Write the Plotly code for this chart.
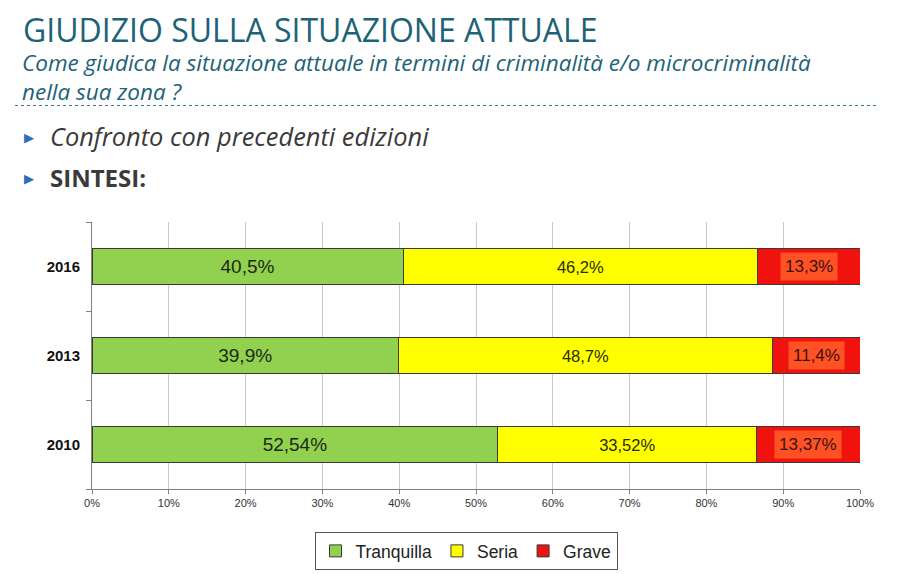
import plotly.graph_objects as go

years = ["2010", "2013", "2016"]
tranquilla = [52.54, 39.9, 40.5]
seria = [33.52, 48.7, 46.2]
grave = [13.37, 11.4, 13.3]
tranquilla_lbl = ["52,54%", "39,9%", "40,5%"]
seria_lbl = ["33,52%", "48,7%", "46,2%"]
grave_lbl = ["13,37%", "11,4%", "13,3%"]

# page body has an 8px margin: size the figure to fit and map window pixels to paper
OFF = 8
W, H = 917 - OFF, 574 - OFF
def px(x): return (x - OFF) / W
def py(y): return 1 - (y - OFF) / H

GREEN = "#92D050"
YELLOW = "#FFFF00"
RED = "#F0120E"
LBLBG = "#FF5224"
TEAL = "#1D6277"
LBLFONT = "Liberation Sans"

fig = go.Figure()
outline = dict(color="#3a3a3a", width=1)
fig.add_trace(go.Bar(y=years, x=tranquilla, name="Tranquilla", orientation="h",
                     marker=dict(color=GREEN, line=outline), text=tranquilla_lbl,
                     textposition="inside", insidetextanchor="middle",
                     textfont=dict(family=LBLFONT, size=19, color="#1a2a12")))
fig.add_trace(go.Bar(y=years, x=seria, name="Seria", orientation="h",
                     marker=dict(color=YELLOW, line=outline), text=seria_lbl,
                     textposition="inside", insidetextanchor="middle",
                     textfont=dict(family=LBLFONT, size=16.5, color="#2a2a10")))
fig.add_trace(go.Bar(y=years, x=grave, name="Grave", orientation="h",
                     marker=dict(color=RED, line=outline)))

annotations = []
# category axis: position the red-segment labels by category index
for i, (t, s, g, lbl) in enumerate(zip(tranquilla, seria, grave, grave_lbl)):
    tot = t + s + g
    cx = (t + s + g / 2) / tot * 100
    annotations.append(dict(x=cx, y=i, xref="x", yref="y", text=lbl, showarrow=False,
                            font=dict(family=LBLFONT, size=17, color="#3a1010"),
                            bgcolor=LBLBG, borderpad=4))

annotations += [
    dict(x=px(21), y=py(29), xref="paper", yref="paper", xanchor="left", yanchor="middle",
         text="GIUDIZIO SULLA SITUAZIONE ATTUALE", showarrow=False,
         font=dict(family="Open Sans", size=32, color=TEAL)),
    dict(x=px(20), y=py(77), xref="paper", yref="paper", xanchor="left", yanchor="middle",
         text="<i>Come giudica la situazione attuale in termini di criminalità e/o microcriminalità<br>nella sua zona ?</i>",
         showarrow=False, align="left",
         font=dict(family="Open Sans", size=22.5, color=TEAL)),
    dict(x=px(22), y=py(137), xref="paper", yref="paper", xanchor="left", yanchor="middle",
         text="▶", showarrow=False, font=dict(family="DejaVu Sans", size=13, color="#2E6DB8")),
    dict(x=px(48), y=py(136), xref="paper", yref="paper", xanchor="left", yanchor="middle",
         text="<i>Confronto con precedenti edizioni</i>", showarrow=False,
         font=dict(family="Open Sans", size=25.4, color="#3a3a3a")),
    dict(x=px(22), y=py(179), xref="paper", yref="paper", xanchor="left", yanchor="middle",
         text="▶", showarrow=False, font=dict(family="DejaVu Sans", size=13, color="#2E6DB8")),
    dict(x=px(48), y=py(177), xref="paper", yref="paper", xanchor="left", yanchor="middle",
         text="<b>SINTESI:</b>", showarrow=False,
         font=dict(family="Open Sans", size=24, color="#3a3a3a")),
]

shapes = [dict(type="line", xref="paper", yref="paper", x0=px(15), x1=px(876), y0=py(105.5), y1=py(105.5),
               line=dict(color="#2E7A8E", width=1, dash="dot"))]

fig.update_layout(
    width=W, height=H, barmode="stack", barnorm="percent", bargap=0.6,
    paper_bgcolor="white", plot_bgcolor="white",
    margin=dict(l=0, r=0, t=0, b=0, autoexpand=False),
    font=dict(family=LBLFONT, color="#222"),
    annotations=annotations, shapes=shapes,
    showlegend=True,
    legend=dict(orientation="h", x=px(466), xanchor="center", y=py(532), yanchor="top",
                bordercolor="#555", borderwidth=1, bgcolor="white",
                font=dict(family=LBLFONT, size=17.5, color="#222"),
                traceorder="normal", itemwidth=30),
    xaxis=dict(domain=[px(92), px(860)], range=[0, 100], dtick=10, ticksuffix="%",
               showgrid=True, gridcolor="#c8c8c8", gridwidth=1, zeroline=False,
               showline=True, linecolor="#808080", ticks="outside", ticklen=4, tickcolor="#808080",
               tickfont=dict(size=11, color="#333")),
    yaxis=dict(domain=[py(489), py(222)], type="category",
               showline=True, linecolor="#808080", ticks="outside", tickson="boundaries",
               ticklen=5, tickcolor="#808080", showgrid=False, ticklabelstandoff=8,
               tickfont=dict(size=15, color="#111", family=LBLFONT, weight="bold")),
)
fig.write_html("out.html")
